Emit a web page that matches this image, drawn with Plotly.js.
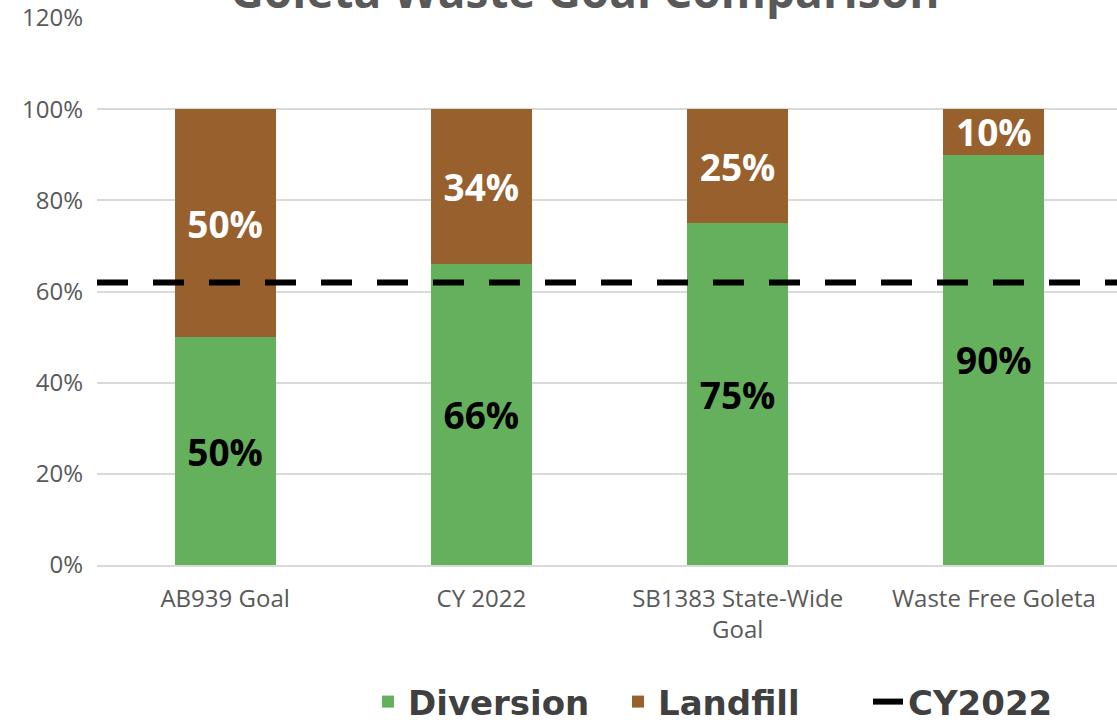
<!DOCTYPE html>
<html>
<head>
<meta charset="utf-8">
<script src="https://cdn.plot.ly/plotly-3.0.1.min.js"></script>
<style>
html, body { margin: 0; padding: 0; overflow: hidden; background: #fff; }
#chart { width: 1122px; height: 724px; }
</style>
</head>
<body>
<div id="chart"></div>
<script>
const categories = ["AB939 Goal", "CY 2022", "SB1383 State-Wide<br>Goal", "Waste Free Goleta"];
const diversion = [50, 66, 75, 90];
const landfill = [50, 34, 25, 10];
const cy2022Level = 62;
const yTicks = [0, 20, 40, 60, 80, 100, 120];
const yTickLabels = ["0%", "20%", "40%", "60%", "80%", "100%", "120%"];

const green = "#65b05d";
const brown = "#98602d";

const traces = [
  {
    type: "bar", name: "Diversion", x: categories, y: diversion,
    marker: { color: green },
    text: diversion.map(v => v + "%"), textposition: "inside", insidetextanchor: "middle",
    textfont: { family: "Open Sans", size: 37, color: "#000000", weight: "bold" },
    constraintext: "none", hoverinfo: "skip"
  },
  {
    type: "bar", name: "Landfill", x: categories, y: landfill,
    marker: { color: brown },
    text: landfill.map(v => v + "%"), textposition: "inside", insidetextanchor: "middle",
    textfont: { family: "Open Sans", size: 37, color: "#ffffff", weight: "bold" },
    constraintext: "none", hoverinfo: "skip"
  },
  {
    type: "scatter", mode: "lines", name: "CY2022",
    x: [0, 1], y: [cy2022Level, cy2022Level], xaxis: "x2", yaxis: "y2",
    line: { color: "#000000", width: 6, dash: "31px,25px" }, hoverinfo: "skip"
  }
];

const layout = {
  width: 1122, height: 724,
  margin: { l: 75, r: 0, t: 18, b: 159 },
  paper_bgcolor: "#ffffff", plot_bgcolor: "rgba(0,0,0,0)",
  barmode: "stack", bargap: 0.605,
  title: {
    text: "Goleta Waste Goal Comparison",
    font: { family: "Open Sans", size: 46, color: "#595959", weight: "bold" },
    x: 585 / 1122, xref: "container", xanchor: "center",
    yref: "paper", y: 1, yanchor: "bottom", pad: { b: 10 }
  },
  xaxis: {
    domain: [22 / 1047, 1], range: [-0.5, 3.5], type: "category",
    showgrid: false, showline: true, linecolor: "#d9d9d9", linewidth: 2,
    ticks: "", tickfont: { family: "Open Sans", size: 24, color: "#595959" },
    ticklabelstandoff: 11, fixedrange: true
  },
  yaxis: {
    range: [0, 120], tickvals: yTicks, ticktext: yTickLabels,
    showgrid: true, gridcolor: "#d9d9d9", gridwidth: 2, zeroline: false, showline: false,
    ticks: "", tickfont: { family: "Open Sans", size: 24, color: "#595959" },
    ticklabelstandoff: 13, fixedrange: true
  },
  xaxis2: { domain: [0, 1], range: [0, 1], anchor: "y2", overlaying: "x", visible: false, fixedrange: true },
  yaxis2: { range: [0, 120], anchor: "x2", overlaying: "y", visible: false, fixedrange: true },
  showlegend: true,
  legend: {
    orientation: "h", xref: "container", yref: "container",
    x: 368 / 1122, xanchor: "left", y: 1 - 702 / 724, yanchor: "middle",
    font: { family: "DejaVu Sans", size: 34, color: "#404040", weight: "bold" },
    traceorder: "normal", bgcolor: "rgba(0,0,0,0)", itemwidth: 30,
    entrywidth: 205, entrywidthmode: "pixels"
  }
};

Plotly.newPlot("chart", traces, layout, { displayModeBar: false, staticPlot: true });
</script>
</body>
</html>
